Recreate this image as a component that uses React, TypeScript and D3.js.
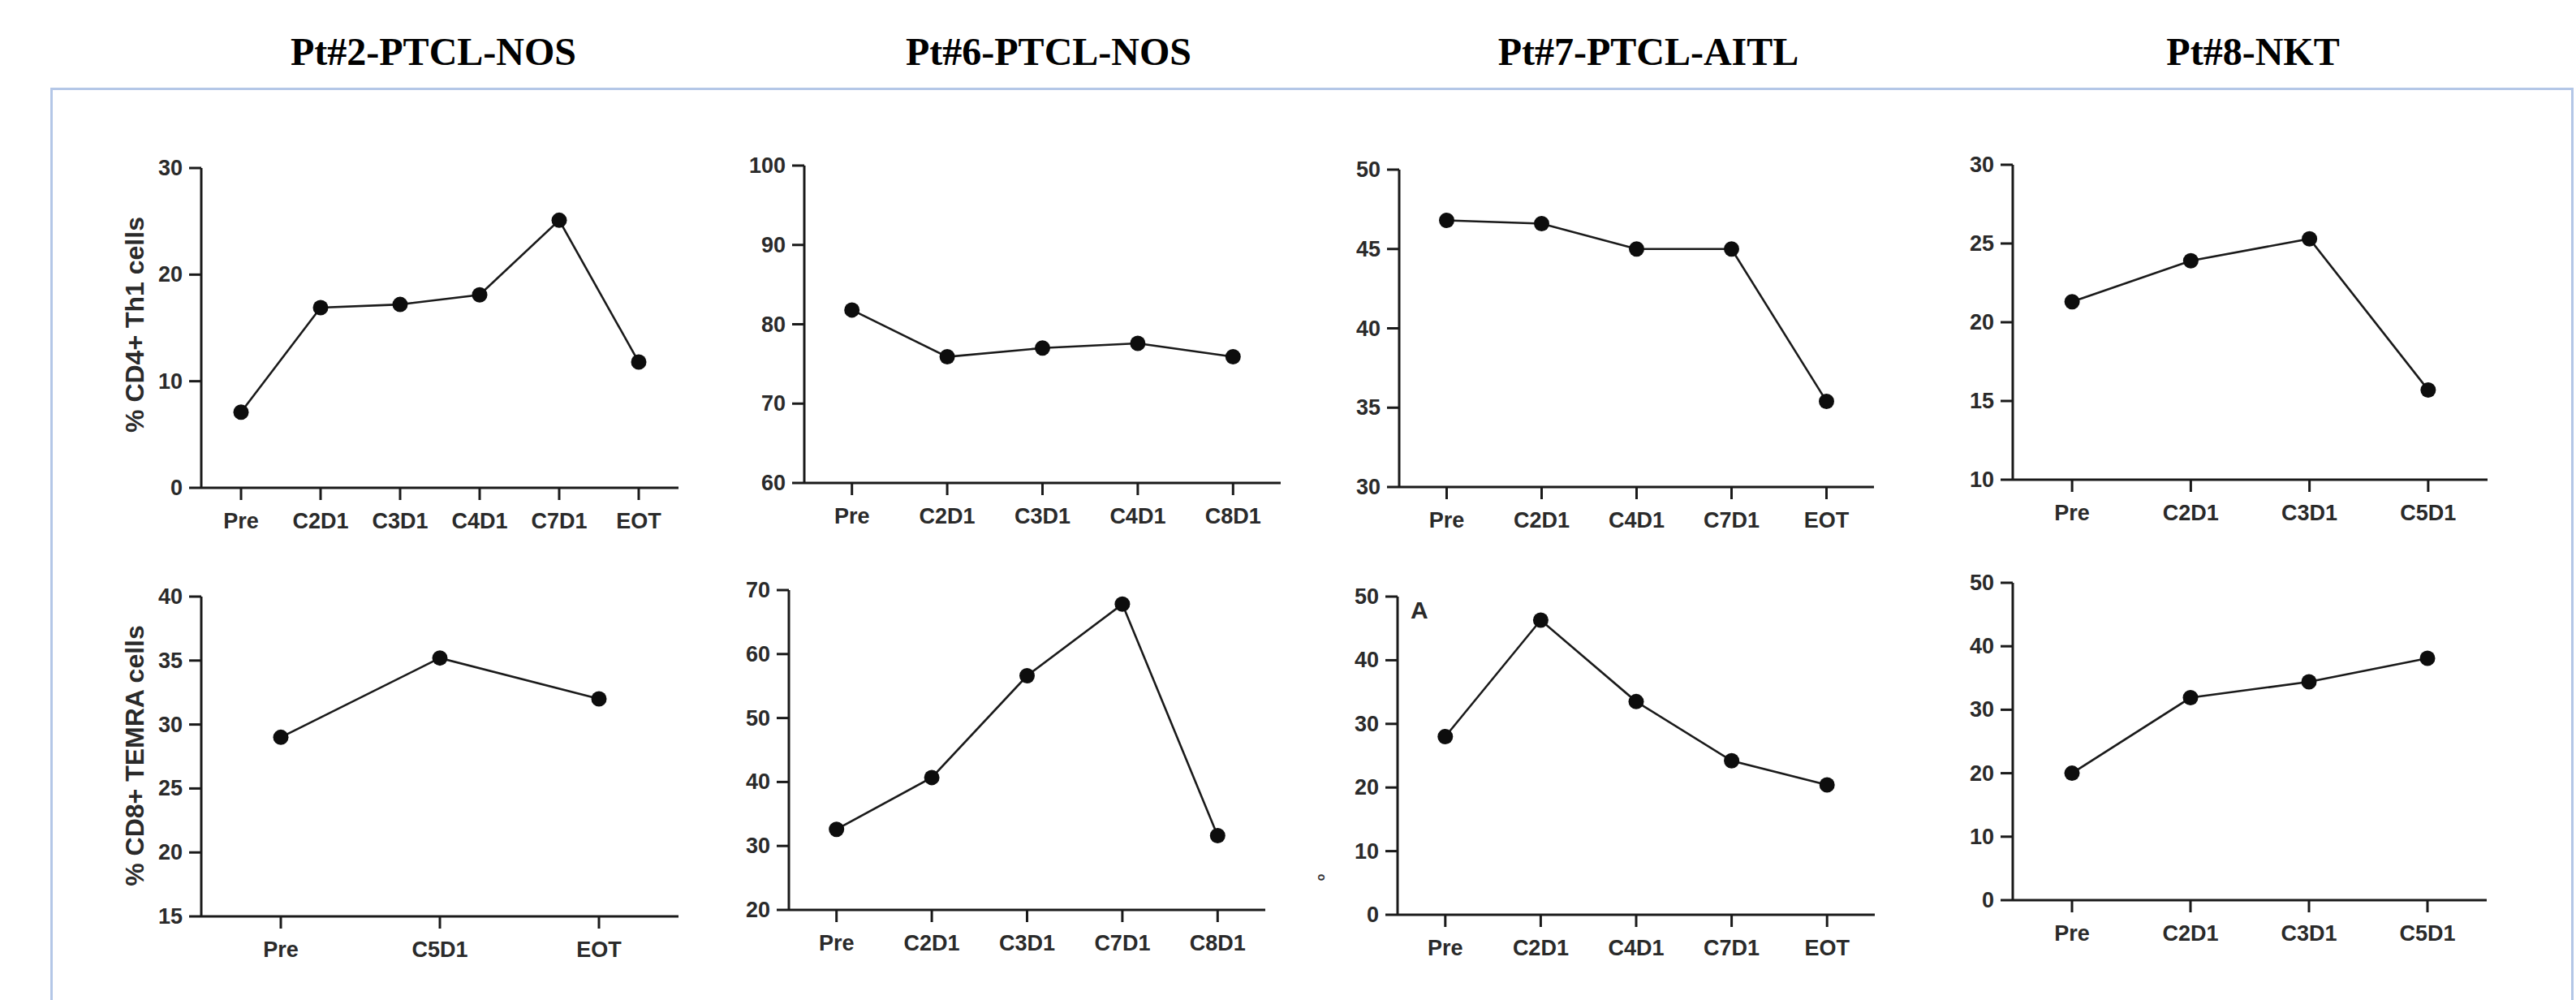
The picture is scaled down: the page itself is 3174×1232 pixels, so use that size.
import React from 'react';
import * as d3 from 'd3';

// ---------- DATA ----------
const titles = ['Pt#2-PTCL-NOS', 'Pt#6-PTCL-NOS', 'Pt#7-PTCL-AITL', 'Pt#8-NKT'];
const yLabels = ['% CD4+ Th1 cells', '% CD8+ TEMRA cells'];

// Row 1: % CD4+ Th1 cells
const pt2Th1Cats = ['Pre', 'C2D1', 'C3D1', 'C4D1', 'C7D1', 'EOT'];
const pt2Th1Vals = [7.1, 16.9, 17.2, 18.1, 25.1, 11.8];
const pt2Th1Ticks = [0, 10, 20, 30];

const pt6Th1Cats = ['Pre', 'C2D1', 'C3D1', 'C4D1', 'C8D1'];
const pt6Th1Vals = [81.8, 75.9, 77.0, 77.6, 75.9];
const pt6Th1Ticks = [60, 70, 80, 90, 100];

const pt7Th1Cats = ['Pre', 'C2D1', 'C4D1', 'C7D1', 'EOT'];
const pt7Th1Vals = [46.8, 46.6, 45.0, 45.0, 35.4];
const pt7Th1Ticks = [30, 35, 40, 45, 50];

const pt8Th1Cats = ['Pre', 'C2D1', 'C3D1', 'C5D1'];
const pt8Th1Vals = [21.3, 23.9, 25.3, 15.7];
const pt8Th1Ticks = [10, 15, 20, 25, 30];

// Row 2: % CD8+ TEMRA cells
const pt2TemraCats = ['Pre', 'C5D1', 'EOT'];
const pt2TemraVals = [29.0, 35.2, 32.0];
const pt2TemraTicks = [15, 20, 25, 30, 35, 40];

const pt6TemraCats = ['Pre', 'C2D1', 'C3D1', 'C7D1', 'C8D1'];
const pt6TemraVals = [32.6, 40.7, 56.6, 67.8, 31.6];
const pt6TemraTicks = [20, 30, 40, 50, 60, 70];

const pt7TemraCats = ['Pre', 'C2D1', 'C4D1', 'C7D1', 'EOT'];
const pt7TemraVals = [28.0, 46.3, 33.5, 24.2, 20.4];
const pt7TemraTicks = [0, 10, 20, 30, 40, 50];

const pt8TemraCats = ['Pre', 'C2D1', 'C3D1', 'C5D1'];
const pt8TemraVals = [20.0, 31.9, 34.4, 38.1];
const pt8TemraTicks = [0, 10, 20, 30, 40, 50];

// ---------- LAYOUT ----------
type Panel = {
  cats: string[];
  vals: number[];
  ticks: number[];
  x0: number;
  x1: number;
  yTop: number;
  yBot: number;
};

const panels: Panel[] = [
  { cats: pt2Th1Cats, vals: pt2Th1Vals, ticks: pt2Th1Ticks, x0: 248, x1: 836, yTop: 207, yBot: 601 },
  { cats: pt6Th1Cats, vals: pt6Th1Vals, ticks: pt6Th1Ticks, x0: 991, x1: 1578, yTop: 204, yBot: 595 },
  { cats: pt7Th1Cats, vals: pt7Th1Vals, ticks: pt7Th1Ticks, x0: 1724, x1: 2309, yTop: 209, yBot: 600 },
  { cats: pt8Th1Cats, vals: pt8Th1Vals, ticks: pt8Th1Ticks, x0: 2480, x1: 3065, yTop: 203, yBot: 591 },
  { cats: pt2TemraCats, vals: pt2TemraVals, ticks: pt2TemraTicks, x0: 248, x1: 836, yTop: 735, yBot: 1129 },
  { cats: pt6TemraCats, vals: pt6TemraVals, ticks: pt6TemraTicks, x0: 972, x1: 1559, yTop: 727, yBot: 1121 },
  { cats: pt7TemraCats, vals: pt7TemraVals, ticks: pt7TemraTicks, x0: 1722, x1: 2310, yTop: 735, yBot: 1127 },
  { cats: pt8TemraCats, vals: pt8TemraVals, ticks: pt8TemraTicks, x0: 2480, x1: 3064, yTop: 718, yBot: 1109 },
];

const titleX = [534, 1292, 2031, 2776];
const W = 3174;
const H = 1232;
const SANS = '"Liberation Sans", Arial, Helvetica, sans-serif';
const SERIF = '"Liberation Serif", "Times New Roman", serif';
const TICK = 15;

function PanelChart({ p }: { p: Panel }) {
  const x = d3.scalePoint<string>().domain(p.cats).range([p.x0, p.x1]).padding(0.5);
  const ext = d3.extent(p.ticks) as [number, number];
  const y = d3.scaleLinear().domain(ext).range([p.yBot, p.yTop]);
  const line = d3
    .line<number>()
    .x((_, i) => x(p.cats[i]) as number)
    .y((v) => y(v));
  return (
    <g>
      {/* y axis */}
      <line x1={p.x0} x2={p.x0} y1={y(ext[1])} y2={p.yBot} stroke="#1a1a1a" strokeWidth={3} />
      {p.ticks.map((t) => (
        <g key={'yt' + t}>
          <line x1={p.x0 - TICK} x2={p.x0} y1={y(t)} y2={y(t)} stroke="#1a1a1a" strokeWidth={3} />
          <text
            x={p.x0 - 23}
            y={y(t)}
            textAnchor="end"
            dominantBaseline="central"
            fontFamily={SANS}
            fontWeight="bold"
            fontSize={27}
            fill="#2a2a2a"
          >
            {t}
          </text>
        </g>
      ))}
      {/* x axis */}
      <line x1={p.x0} x2={p.x1} y1={p.yBot} y2={p.yBot} stroke="#1a1a1a" strokeWidth={3} />
      {p.cats.map((c) => (
        <g key={'xt' + c}>
          <line
            x1={x(c) as number}
            x2={x(c) as number}
            y1={p.yBot}
            y2={p.yBot + TICK}
            stroke="#1a1a1a"
            strokeWidth={3}
          />
          <text
            x={x(c) as number}
            y={p.yBot + 41}
            textAnchor="middle"
            dominantBaseline="central"
            fontFamily={SANS}
            fontWeight="bold"
            fontSize={27}
            fill="#2a2a2a"
          >
            {c}
          </text>
        </g>
      ))}
      {/* series */}
      <path d={line(p.vals) || ''} fill="none" stroke="#1a1a1a" strokeWidth={2.6} />
      {p.vals.map((v, i) => (
        <circle key={'pt' + i} cx={x(p.cats[i]) as number} cy={y(v)} r={9.5} fill="#0d0d0d" />
      ))}
    </g>
  );
}

export default function App() {
  return (
    <div style={{ position: 'absolute', left: 0, top: 0, width: W, height: H, background: '#fff' }}>
      <svg width={W} height={H} viewBox={`0 0 ${W} ${H}`} style={{ display: 'block' }}>
        <rect x={0} y={0} width={W} height={H} fill="#ffffff" />
        {/* frame */}
        <path
          d={`M63.5,${H} L63.5,109.5 L3169.5,109.5 L3169.5,${H}`}
          fill="none"
          stroke="#b4c7e7"
          strokeWidth={3}
        />
        {titles.map((t, i) => (
          <text
            key={t}
            x={titleX[i]}
            y={80}
            textAnchor="middle"
            fontFamily={SERIF}
            fontWeight="bold"
            fontSize={48}
            fill="#000"
          >
            {t}
          </text>
        ))}
        {yLabels.map((l, i) => (
          <text
            key={l}
            transform={`translate(166,${i === 0 ? 400 : 931}) rotate(-90)`}
            textAnchor="middle"
            dominantBaseline="central"
            fontFamily={SANS}
            fontWeight="bold"
            fontSize={32}
            fill="#2a2a2a"
          >
            {l}
          </text>
        ))}
        {panels.map((p, i) => (
          <PanelChart key={i} p={p} />
        ))}
        {/* panel letter and clipped label remnant */}
        <text x={1738} y={762} fontFamily={SANS} fontWeight="bold" fontSize={30} fill="#2a2a2a">
          A
        </text>
        <text
          transform="translate(1627,1081) rotate(-90)"
          textAnchor="middle"
          dominantBaseline="central"
          fontFamily={SANS}
          fontWeight="bold"
          fontSize={14}
          fill="#333"
        >
          o
        </text>
      </svg>
    </div>
  );
}
